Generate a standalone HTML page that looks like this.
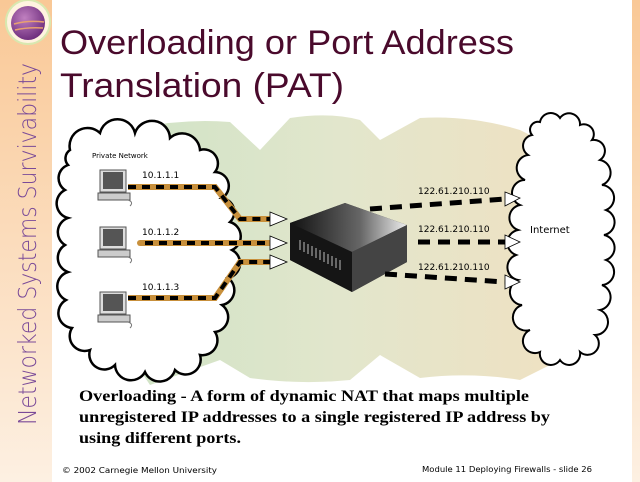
<!DOCTYPE html>
<html><head><meta charset="utf-8"><style>
html,body{margin:0;padding:0;background:#fff;}
svg{display:block;}
</style></head><body>
<svg width="640" height="482" viewBox="0 0 640 482" xmlns="http://www.w3.org/2000/svg">
<defs>
<linearGradient id="side" x1="0" y1="0" x2="0" y2="1">
<stop offset="0" stop-color="#f9c896"/><stop offset="1" stop-color="#fdf0e2"/>
</linearGradient>
<linearGradient id="bg" x1="0" y1="0" x2="1" y2="0">
<stop offset="0" stop-color="#cfe3c6"/><stop offset="0.5" stop-color="#e2e6cc"/><stop offset="1" stop-color="#efe1c2"/>
</linearGradient>
<linearGradient id="box" x1="0" y1="0" x2="1" y2="0">
<stop offset="0" stop-color="#111"/><stop offset="0.6" stop-color="#666"/><stop offset="1" stop-color="#eee"/>
</linearGradient>
<radialGradient id="ball" cx="0.4" cy="0.35" r="0.7">
<stop offset="0" stop-color="#c080c0"/><stop offset="1" stop-color="#6a2a7a"/>
</radialGradient>
</defs>
<rect x="0" y="0" width="640" height="482" fill="#fff"/>
<rect x="0" y="0" width="52" height="482" fill="url(#side)"/>
<rect x="632" y="0" width="8" height="482" fill="url(#side)"/>
<circle cx="28" cy="22" r="22" fill="#fff3e0" stroke="#d8e8b0" stroke-width="2"/>
<circle cx="28" cy="23" r="17" fill="url(#ball)"/>
<path d="M14 24 Q28 20 44 22 M15 30 Q28 27 43 28" stroke="#e8a070" stroke-width="1.5" fill="none"/>
<text transform="translate(36,425) rotate(-90)" font-family="'DejaVu Sans','Liberation Sans',sans-serif" font-size="25" font-weight="300" fill="#7a4a98" textLength="362" lengthAdjust="spacingAndGlyphs">Networked Systems Survivability</text>
<text x="60" y="54" font-family="'Liberation Sans',sans-serif" font-size="34" fill="#4a0a2c" textLength="454" lengthAdjust="spacingAndGlyphs">Overloading or Port Address</text>
<text x="60" y="97" font-family="'Liberation Sans',sans-serif" font-size="34" fill="#4a0a2c" textLength="284" lengthAdjust="spacingAndGlyphs">Translation (PAT)</text>

<!-- background blob -->
<path d="M130 130 Q180 118 230 122 L260 150 L290 118 Q330 112 360 120 L380 140 L420 118 Q470 115 520 130 L560 150 L560 360 L520 380 Q470 372 420 378 L380 355 L350 380 Q300 385 250 378 L220 360 L150 385 L120 340 Z" fill="url(#bg)"/>

<!-- left cloud -->
<path fill="#fff" stroke="#000" stroke-width="2.5" d="M70 150 A18 18 0 0 1 100 133 A18 18 0 0 1 135 133 A18 18 0 0 1 170 138 A18 18 0 0 1 200 150 A14 14 0 0 1 215 172 A14 14 0 0 1 222 198 A14 14 0 0 1 230 222 A15 15 0 0 1 232 250 A15 15 0 0 1 228 278 A15 15 0 0 1 222 305 A15 15 0 0 1 215 332 A15 15 0 0 1 200 355 A15 15 0 0 1 175 370 A16 16 0 0 1 145 372 A16 16 0 0 1 115 365 A15 15 0 0 1 90 350 A15 15 0 0 1 72 328 A15 15 0 0 1 66 300 A15 15 0 0 1 68 272 A15 15 0 0 1 65 245 A15 15 0 0 1 68 218 A15 15 0 0 1 65 190 A14 14 0 0 1 68 165 A10 10 0 0 1 70 150 Z"/>
<!-- right cloud -->
<path fill="#fff" stroke="#000" stroke-width="2" d="M540 122 A11 11 0 0 1 560 118 A11 11 0 0 1 580 125 A10 10 0 0 1 592 140 A11 11 0 0 1 600 160 A13 13 0 0 1 602 185 A13 13 0 0 1 606 210 A13 13 0 0 1 604 235 A13 13 0 0 1 606 260 A13 13 0 0 1 602 285 A13 13 0 0 1 600 310 A13 13 0 0 1 595 335 A11 11 0 0 1 580 352 A11 11 0 0 1 560 360 A11 11 0 0 1 540 352 A12 12 0 0 1 530 330 A13 13 0 0 1 522 305 A13 13 0 0 1 518 280 A13 13 0 0 1 516 255 A13 13 0 0 1 518 230 A13 13 0 0 1 520 205 A13 13 0 0 1 525 180 A13 13 0 0 1 528 155 A11 11 0 0 1 532 135 A8 8 0 0 1 540 122 Z"/>
<text x="530" y="233" font-family="'DejaVu Sans',sans-serif" font-size="10" fill="#000">Internet</text>
<text x="92" y="158" font-family="'DejaVu Sans',sans-serif" font-size="7" fill="#000">Private Network</text>

<!-- computers -->
<g id="pc">
<rect x="100" y="170" width="26" height="22" fill="#ddd" stroke="#555" stroke-width="1"/>
<rect x="103" y="172" width="20" height="17" fill="#555"/>
<rect x="98" y="193" width="32" height="7" fill="#ccc" stroke="#555" stroke-width="1"/>
<path d="M128 200 q6 2 2 6" stroke="#777" fill="none"/>
</g>
<use href="#pc" y="57"/>
<use href="#pc" y="122"/>

<text x="142" y="178" font-family="'DejaVu Sans',sans-serif" font-size="9">10.1.1.1</text>
<text x="142" y="235" font-family="'DejaVu Sans',sans-serif" font-size="9">10.1.1.2</text>
<text x="142" y="290" font-family="'DejaVu Sans',sans-serif" font-size="9">10.1.1.3</text>

<!-- left connectors -->
<g fill="none" stroke-width="6">
<path d="M128 187 L215 187 L240 219 L270 219" stroke="#c8903c"/>
<path d="M140 243 L270 243" stroke="#c8903c" stroke-linecap="round"/>
<path d="M128 298 L215 298 L240 262 L270 262" stroke="#c8903c"/>
</g>
<g fill="none" stroke-width="4" stroke="#000" stroke-dasharray="8 6">
<path d="M128 187 L215 187 L240 219 L270 219"/>
<path d="M145 243 L270 243"/>
<path d="M128 298 L215 298 L240 262 L270 262"/>
</g>
<g fill="#fff" stroke="#000" stroke-width="0.8">
<path d="M270 212 L287 219 L270 226 Z"/>
<path d="M270 236 L287 243 L270 250 Z"/>
<path d="M270 255 L287 262 L270 269 Z"/>
</g>

<!-- router -->
<path d="M290 223 L345 203 L407 225 L407 262 L352 292 L290 260 Z" fill="#222"/>
<path d="M290 223 L345 203 L407 225 L352 252 Z" fill="url(#box)"/>
<path d="M352 252 L407 225 L407 262 L352 292 Z" fill="#444"/>
<path d="M290 223 L352 252 L352 292 L290 260 Z" fill="#151515"/>
<g stroke="#bbb" stroke-width="1">
<path d="M300 240v10M304 242v10M308 244v10M312 246v10M316 248v10M320 250v10M324 252v10M328 254v10M332 256v10M336 258v10M340 260v10"/>
</g>

<!-- right connectors -->
<g stroke="#000" stroke-width="5" stroke-dasharray="12 8" fill="none">
<path d="M370 209 L505 199"/>
<path d="M418 242 L505 242"/>
<path d="M385 274 L505 282"/>
</g>
<g fill="#fff" stroke="#000" stroke-width="0.8">
<path d="M505 192 L520 198 L505 206 Z"/>
<path d="M505 235 L520 242 L505 249 Z"/>
<path d="M505 275 L520 282 L505 289 Z"/>
</g>
<g font-family="'DejaVu Sans',sans-serif" font-size="9">
<text x="418" y="194">122.61.210.110</text>
<text x="418" y="232">122.61.210.110</text>
<text x="418" y="270">122.61.210.110</text>
</g>

<g font-family="'Liberation Serif',serif" font-size="16" font-weight="bold" fill="#000">
<text x="79" y="401" textLength="450" lengthAdjust="spacingAndGlyphs">Overloading - A form of dynamic NAT that maps multiple</text>
<text x="79" y="422" textLength="471" lengthAdjust="spacingAndGlyphs">unregistered IP addresses to a single registered IP address by</text>
<text x="79" y="443" textLength="162" lengthAdjust="spacingAndGlyphs">using different ports.</text>
</g>
<g font-family="'DejaVu Sans',sans-serif" font-size="8" fill="#000">
<text x="62" y="473" textLength="155" lengthAdjust="spacingAndGlyphs">© 2002 Carnegie Mellon University</text>
<text x="422" y="472" textLength="170" lengthAdjust="spacingAndGlyphs">Module 11 Deploying Firewalls - slide 26</text>
</g>
</svg>
</body></html>
